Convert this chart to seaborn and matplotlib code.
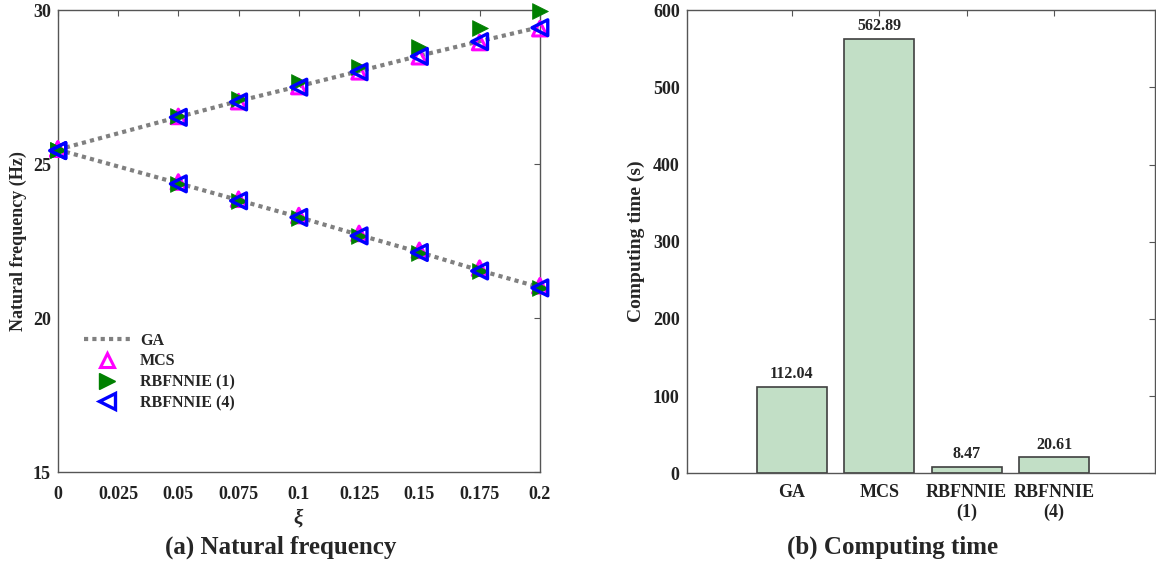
import matplotlib
matplotlib.use("Agg")
import matplotlib.pyplot as plt
import seaborn as sns
import pandas as pd
from matplotlib.lines import Line2D

sns.set_theme(style="white")
plt.rcParams['font.family'] = ['Liberation Serif', 'DejaVu Serif']
plt.rcParams['font.weight'] = 'bold'
plt.rcParams['mathtext.fontset'] = 'custom'
plt.rcParams['mathtext.it'] = 'Liberation Serif:italic'

# ---- data: natural frequency ----
xi = [0, 0.05, 0.075, 0.1, 0.125, 0.15, 0.175, 0.2]
ga_upper = [25.47, 26.53, 27.05, 27.53, 28.02, 28.52, 28.99, 29.45]
ga_lower = [25.47, 24.38, 23.83, 23.28, 22.70, 22.14, 21.55, 21.00]
mcs_upper = [25.49, 26.55, 27.03, 27.52, 28.00, 28.49, 28.95, 29.40]
mcs_lower = [25.49, 24.42, 23.86, 23.33, 22.75, 22.20, 21.62, 21.05]
rbf1_upper = [25.45, 26.57, 27.10, 27.66, 28.15, 28.80, 29.42, 29.97]
rbf1_lower = [25.45, 24.35, 23.80, 23.25, 22.68, 22.12, 21.52, 20.98]
rbf4_upper = [25.44, 26.52, 27.02, 27.50, 28.00, 28.50, 28.98, 29.43]
rbf4_lower = [25.44, 24.36, 23.81, 23.27, 22.67, 22.13, 21.53, 20.98]

# ---- data: computing time ----
methods = ["GA", "MCS", "RBFNNIE\n(1)", "RBFNNIE\n(4)"]
times = [112.04, 562.89, 8.47, 20.61]

fig = plt.figure(figsize=(11.56, 5.66), dpi=100)
ax1 = fig.add_axes([0.050, 0.166, 0.417, 0.816])
ax2 = fig.add_axes([0.594, 0.164, 0.405, 0.818])

gray = "#808080"
for ga in (ga_upper, ga_lower):
    sns.lineplot(x=xi, y=ga, ax=ax1, color=gray, linestyle=(0, (1, 1)), linewidth=3,
                 sort=False, zorder=2)
for mcs in (mcs_upper, mcs_lower):
    sns.scatterplot(x=xi, y=mcs, ax=ax1, marker="^", s=110, facecolor="none",
                    edgecolor="#ff00ff", linewidth=2.2, zorder=3)
for r1 in (rbf1_upper, rbf1_lower):
    sns.scatterplot(x=xi, y=r1, ax=ax1, marker=">", s=130, color="#008000",
                    edgecolor="#008000", linewidth=0.5, zorder=4)
for r4 in (rbf4_upper, rbf4_lower):
    sns.scatterplot(x=xi, y=r4, ax=ax1, marker="<", s=130, facecolor="none",
                    edgecolor="#0000ff", linewidth=2.4, zorder=5)
for coll in ax1.collections:
    coll.set_clip_on(False)

ax1.set_xlim(0, 0.2)
ax1.set_ylim(15, 30)
ax1.set_xticks([0, 0.025, 0.05, 0.075, 0.1, 0.125, 0.15, 0.175, 0.2])
ax1.set_xticklabels(["0", "0.025", "0.05", "0.075", "0.1", "0.125", "0.15", "0.175", "0.2"])
ax1.set_yticks([15, 20, 25, 30])
ax1.set_xlabel(r"$\it{\xi}$", fontsize=15, labelpad=2)
ax1.set_ylabel("Natural frequency (Hz)", fontsize=13, fontweight="bold", labelpad=4)

handles = [
    Line2D([], [], color=gray, linestyle=(0, (1, 1)), linewidth=3),
    Line2D([], [], marker="^", linestyle="none", markersize=10, markerfacecolor="none",
           markeredgecolor="#ff00ff", markeredgewidth=2.2),
    Line2D([], [], marker=">", linestyle="none", markersize=11, color="#008000"),
    Line2D([], [], marker="<", linestyle="none", markersize=11, markerfacecolor="none",
           markeredgecolor="#0000ff", markeredgewidth=2.4),
]
labels = ["GA", "MCS", "RBFNNIE (1)", "RBFNNIE (4)"]
ax1.legend(handles, labels, loc="upper left", bbox_to_anchor=(0.055, 0.302), frameon=False,
           prop={"weight": "bold", "size": 11.5}, handlelength=2.9, handletextpad=0.6,
           labelspacing=0.3, borderaxespad=0, borderpad=0)

df = pd.DataFrame({"method": methods, "time": times})
sns.barplot(data=df, x="method", y="time", ax=ax2, color="#c2dfc6", saturation=1,
            edgecolor="#404040", linewidth=1.2, width=0.8)
for i, v in enumerate(times):
    ax2.text(i, v + 6, f"{v:.2f}", ha="center", va="bottom", fontsize=11.5, fontweight="bold")
ax2.set_xlim(-1.2, 4.15)
ax2.set_ylim(0, 600)
ax2.set_yticks([0, 100, 200, 300, 400, 500, 600])
ax2.set_xlabel("")
ax2.set_ylabel("Computing time (s)", fontsize=14, fontweight="bold", labelpad=6)

for ax in (ax1, ax2):
    for sp in ax.spines.values():
        sp.set_color("#555555")
        sp.set_linewidth(1.0)
        sp.set_visible(True)
    ax.tick_params(direction="in", top=True, right=True, length=4, width=0.8,
                   colors="#555555", labelcolor="#222222", labelsize=13, pad=5)
    for lab in ax.get_xticklabels() + ax.get_yticklabels():
        lab.set_fontweight("bold")

ax1.tick_params(axis="x", pad=10)
ax2.tick_params(axis="x", length=0, pad=8)
ax2.tick_params(axis="x", which="both", top=True, length=4)

fig.text(0.243, 0.022, "(a) Natural frequency", ha="center", fontsize=18, fontweight="bold")
fig.text(0.772, 0.022, "(b) Computing time", ha="center", fontsize=18, fontweight="bold")

fig.savefig("out.png", dpi=100)
